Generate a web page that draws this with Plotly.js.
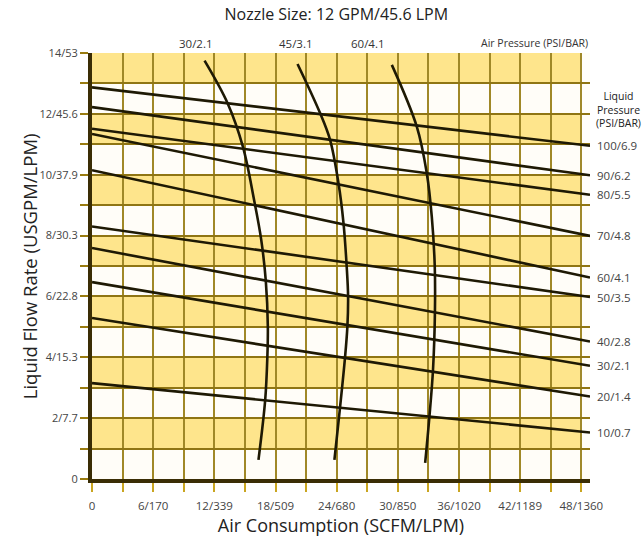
<!DOCTYPE html>
<html>
<head>
<meta charset="utf-8">
<script src="https://cdn.plot.ly/plotly-3.0.1.min.js"></script>
<style>html,body{margin:0;padding:0;background:#fff;}#chart{width:643px;height:540px;}</style>
</head>
<body>
<div id="chart"></div>
<script>
// ---- data ----
const titleText = 'Nozzle Size: 12 GPM/45.6 LPM';
const xTitleText = 'Air Consumption (SCFM/LPM)';
const yTitleText = 'Liquid Flow Rate (USGPM/LPM)';
const xTickVals = [0, 3, 6, 9, 12, 15, 18, 21, 24, 27, 30, 33, 36, 39, 42, 45, 48];
const xTickText = ['0', '', '6/170', '', '12/339', '', '18/509', '', '24/680', '', '30/850', '', '36/1020', '', '42/1189', '', '48/1360'];
const yTickVals = [0, 1, 2, 3, 4, 5, 6, 7, 8, 9, 10, 11, 12, 13, 14];
const yTickText = ['0', '', '2/7.7', '', '4/15.3', '', '6/22.8', '', '8/30.3', '', '10/37.9', '', '12/45.6', '', '14/53'];
const shadedRowStarts = [1, 3, 5, 7, 9, 11, 13];

// liquid pressure lines (straight), flow at air 0 and at line end
const liquidLabels = ['100/6.9', '90/6.2', '80/5.5', '70/4.8', '60/4.1', '50/3.5', '40/2.8', '30/2.1', '20/1.4', '10/0.7'];
const lineAirX = [0, 48.85];
const flowStart = [12.87, 12.22, 11.51, 11.34, 10.15, 8.30, 7.59, 6.47, 5.29, 3.15];
const flowEnd = [10.95, 9.98, 9.34, 7.99, 6.62, 5.98, 4.52, 3.72, 2.71, 1.53];

// air pressure curves
const airLabels = ['30/2.1', '45/3.1', '60/4.1'];
const airLabelX = [10.2, 20.0, 27.1];
const curve30X = [11.04, 13.30, 14.80, 15.90, 16.60, 17.05, 17.25, 17.20, 16.99, 16.33];
const curve30Y = [13.75, 12.35, 10.92, 9.17, 7.86, 6.50, 5.00, 4.00, 2.60, 0.63];
const curve45X = [20.16, 22.38, 23.36, 24.18, 24.67, 24.98, 25.12, 25.05, 24.80, 24.34, 23.78];
const curve45Y = [13.64, 12.02, 11.14, 9.72, 8.41, 7.00, 6.00, 5.00, 3.92, 2.38, 0.63];
const curve60X = [29.41, 31.86, 32.84, 33.33, 33.62, 33.64, 33.45, 33.10, 32.68];
const curve60Y = [13.61, 11.58, 10.05, 8.62, 7.00, 5.50, 3.59, 2.06, 0.53];

// ---- build ----
const FONT = 'Open Sans, sans-serif';
const inkColor = '#1e1904';
const traces = [];
liquidLabels.forEach((lab, i) => {
  traces.push({
    type: 'scatter', mode: 'lines', name: lab,
    x: lineAirX, y: [flowStart[i], flowEnd[i]],
    line: {color: inkColor, width: 2.6}, hoverinfo: 'skip', showlegend: false
  });
});
[[curve30X, curve30Y], [curve45X, curve45Y], [curve60X, curve60Y]].forEach((c, i) => {
  traces.push({
    type: 'scatter', mode: 'lines', name: airLabels[i],
    x: c[0], y: c[1],
    line: {color: inkColor, width: 2.6, shape: 'spline', smoothing: 1},
    hoverinfo: 'skip', showlegend: false
  });
});

const shapes = shadedRowStarts.map(r => ({
  type: 'rect', layer: 'below', xref: 'x', yref: 'y',
  x0: 0, x1: 48, y0: r, y1: r + 1,
  fillcolor: '#fee58c', line: {width: 0}
}));

const annotations = [];
airLabels.forEach((lab, i) => {
  annotations.push({
    text: lab, xref: 'x', yref: 'paper', x: airLabelX[i], y: 1, yshift: 10,
    xanchor: 'center', yanchor: 'middle', showarrow: false,
    font: {family: FONT, size: 11.5, color: '#333'}
  });
});
annotations.push({
  text: 'Air Pressure (PSI/BAR)', xref: 'x', yref: 'paper', x: lineAirX[1], y: 1, yshift: 10,
  xanchor: 'right', yanchor: 'middle', showarrow: false,
  font: {family: FONT, size: 10.5, color: '#333'}
});
annotations.push({
  text: 'Liquid<br>Pressure<br>(PSI/BAR)', xref: 'x', yref: 'y', x: lineAirX[1], y: 12.15, xshift: 28,
  xanchor: 'center', yanchor: 'middle', showarrow: false, align: 'center',
  font: {family: FONT, size: 10.5, color: '#222'}
});
liquidLabels.forEach((lab, i) => {
  annotations.push({
    text: lab, xref: 'x', yref: 'y', x: lineAirX[1], y: flowEnd[i], xshift: 5,
    xanchor: 'left', yanchor: 'middle', showarrow: false,
    font: {family: FONT, size: 11.5, color: '#444'}
  });
});
annotations.push({
  text: yTitleText, xref: 'paper', yref: 'paper', x: -0.126, y: 0.5,
  xanchor: 'center', yanchor: 'middle', textangle: -90, showarrow: false,
  font: {family: FONT, size: 18.5, color: '#222'}
});

const layout = {
  width: 643, height: 540,
  margin: {l: 92, r: 53, t: 53, b: 61},
  paper_bgcolor: '#ffffff', plot_bgcolor: '#fffdf8',
  showlegend: false, hovermode: false,
  font: {family: FONT, color: '#333'},
  title: {text: titleText, x: 0.523, xanchor: 'center', y: 0.973, yanchor: 'middle',
          font: {family: FONT, size: 16, color: '#222'}},
  xaxis: {
    range: [0, lineAirX[1]], tickmode: 'array', tickvals: xTickVals, ticktext: xTickText,
    showgrid: true, gridcolor: '#a08828', gridwidth: 2,
    ticks: 'outside', ticklen: 9, tickwidth: 2, tickcolor: '#c9a520',
    showline: true, linecolor: '#3a2d05', linewidth: 4, zeroline: false,
    tickfont: {family: FONT, size: 11.5, color: '#444'}, ticklabelstandoff: 4,
    title: {text: xTitleText, standoff: 5, font: {family: FONT, size: 18, color: '#222'}},
    fixedrange: true
  },
  yaxis: {
    range: [0, 14], tickmode: 'array', tickvals: yTickVals, ticktext: yTickText,
    showgrid: true, gridcolor: '#8f7514', gridwidth: 2,
    ticks: 'outside', ticklen: 8, tickwidth: 2, tickcolor: '#9a7c10',
    showline: true, linecolor: '#3a2d05', linewidth: 4, zeroline: false,
    tickfont: {family: FONT, size: 11, color: '#444'},
    fixedrange: true
  },
  shapes: shapes,
  annotations: annotations
};

Plotly.newPlot('chart', traces, layout, {staticPlot: true, displayModeBar: false});
</script>
</body>
</html>
